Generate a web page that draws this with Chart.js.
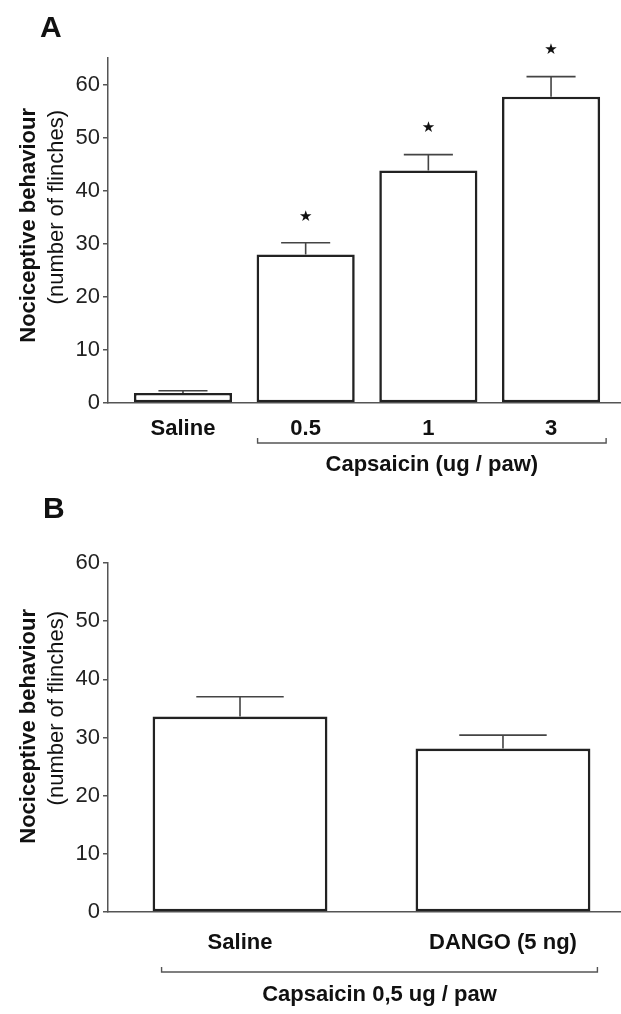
<!DOCTYPE html>
<html>
<head>
<meta charset="utf-8">
<title>Nociceptive behaviour</title>
<script src="https://cdn.jsdelivr.net/npm/chart.js@4.4.1/dist/chart.umd.min.js"></script>
<style>
  body { margin: 0; background: #fff; }
  #wrap { position: relative; width: 621px; height: 1014px; font-family: "Liberation Sans", Arial, sans-serif; }
  .panel { position: absolute; left: 0; width: 621px; }
  .letter { position: absolute; font-weight: bold; font-size: 30px; line-height: 1; color: #111; }
</style>
</head>
<body>
<div id="wrap">
  <div class="panel" style="top:0;height:505px"><canvas id="chartA" width="621" height="505"></canvas></div>
  <div class="panel" style="top:505px;height:509px"><canvas id="chartB" width="621" height="509"></canvas></div>
  <div class="letter" style="left:40px;top:12px">A</div>
  <div class="letter" style="left:43px;top:493px">B</div>
</div>
<script>
'use strict';

// panel A - capsaicin dose response
const catsA = ['Saline', '0.5', '1', '3'];
const meanA = [1.9, 28, 43.8, 57.7];
const semA = [0.4, 2.2, 3.0, 3.8];
const sigA = [false, true, true, true];
const yTicksA = [0, 10, 20, 30, 40, 50, 60];
const groupLabelA = 'Capsaicin (ug / paw)';
const groupSpanA = [1, 3];

// panel B - DANGO vs saline
const catsB = ['Saline', 'DANGO (5 ng)'];
const meanB = [33.6, 28.1];
const semB = [3.4, 2.3];
const sigB = [false, false];
const yTicksB = [0, 10, 20, 30, 40, 50, 60];
const groupLabelB = 'Capsaicin 0,5 ug / paw';
const groupSpanB = [0, 1];

const yTitle = ['Nociceptive behaviour', '(number of flinches)'];

const FONT = '"Liberation Sans", Arial, sans-serif';
const AXIS = '#555';

// error bars (upward only) + significance stars
function errorBarPlugin(means, sems, sig) {
  return {
    id: 'errorBars',
    afterDatasetsDraw(chart) {
      const ctx = chart.ctx;
      const yScale = chart.scales.y;
      const meta = chart.getDatasetMeta(0);
      ctx.save();
      ctx.strokeStyle = '#444';
      ctx.lineWidth = 1.6;
      ctx.fillStyle = '#111';
      ctx.textAlign = 'center';
      ctx.textBaseline = 'middle';
      ctx.font = '15px "DejaVu Sans"';
      meta.data.forEach((bar, i) => {
        const top = yScale.getPixelForValue(means[i] + sems[i]);
        const half = bar.width / 4;
        ctx.beginPath();
        ctx.moveTo(bar.x, bar.y);
        ctx.lineTo(bar.x, top);
        ctx.moveTo(bar.x - half, top);
        ctx.lineTo(bar.x + half, top);
        ctx.stroke();
        if (sig[i]) {
          ctx.fillText('\u2605', bar.x, top - 26);
        }
      });
      ctx.restore();
    }
  };
}

// two line y title, bold first line, regular second
function yTitlePlugin(shift) {
  return {
    id: 'yTitle',
    afterDraw(chart) {
      const ctx = chart.ctx;
      const top = chart.chartArea.top;
      ctx.save();
      ctx.fillStyle = '#111';
      ctx.textAlign = 'right';
      ctx.textBaseline = 'middle';
      [[yTitle[0], 'bold 22px ' + FONT, 29, shift], [yTitle[1], '22px ' + FONT, 57, shift + 2]].forEach(t => {
        ctx.save();
        ctx.font = t[1];
        ctx.translate(t[2], top + t[3]);
        ctx.rotate(-Math.PI / 2);
        ctx.fillText(t[0], 0, 0);
        ctx.restore();
      });
      ctx.restore();
    }
  };
}

// bracket under the grouped bars with its label
function groupPlugin(label, span, g) {
  return {
    id: 'groupBracket',
    afterDraw(chart) {
      const ctx = chart.ctx;
      const meta = chart.getDatasetMeta(0);
      const a = meta.data[span[0]];
      const b = meta.data[span[1]];
      const x1 = a.x - a.width / 2 + g.inL;
      const x2 = b.x + b.width / 2 + g.inR;
      const bottom = chart.chartArea.bottom;
      const yb = bottom + g.drop;
      ctx.save();
      ctx.strokeStyle = AXIS;
      ctx.lineWidth = 1.4;
      ctx.beginPath();
      ctx.moveTo(x1, yb - 5);
      ctx.lineTo(x1, yb);
      ctx.lineTo(x2, yb);
      ctx.lineTo(x2, yb - 5);
      ctx.stroke();
      ctx.fillStyle = '#111';
      ctx.font = 'bold 22px ' + FONT;
      ctx.textAlign = 'center';
      ctx.textBaseline = 'alphabetic';
      ctx.fillText(label, (x1 + x2) / 2, bottom + g.base);
      ctx.restore();
    }
  };
}

function drawPanel(id, cats, means, sems, sig, yTicks, cfg) {
  return new Chart(document.getElementById(id), {
    type: 'bar',
    data: {
      datasets: [{
        data: means.map((v, i) => ({ x: i, y: v })),
        backgroundColor: '#fff',
        borderColor: '#222',
        borderWidth: 2.6,
        borderSkipped: false,
        barPercentage: cfg.barPct,
        categoryPercentage: 1
      }]
    },
    options: {
      responsive: false,
      animation: false,
      events: [],
      layout: { padding: { top: 58, right: 1, left: 0, bottom: 0 } },
      plugins: { legend: { display: false }, tooltip: { enabled: false } },
      scales: {
        x: {
          type: 'linear',
          offset: false,
          min: cfg.xMin,
          max: cfg.xMax,
          afterBuildTicks: s => { s.ticks = cats.map((c, i) => ({ value: i })); },
          afterFit: s => { s.height = cfg.xHeight; },
          grid: { display: false, drawTicks: false },
          border: { color: AXIS, width: 1.5 },
          ticks: {
            autoSkip: false,
            maxRotation: 0,
            padding: cfg.labelPad,
            color: '#111',
            font: { family: FONT, size: 22, weight: 'bold' },
            callback: v => cats[v]
          }
        },
        y: {
          min: 0,
          max: cfg.yMax,
          afterBuildTicks: s => { s.ticks = yTicks.map(v => ({ value: v })); },
          afterFit: s => { s.width = 108; },
          grid: { drawOnChartArea: false, drawTicks: true, tickLength: 5, color: AXIS, lineWidth: 1.5 },
          border: { color: AXIS, width: 1.5 },
          ticks: { padding: 3, color: '#222', font: { family: FONT, size: 22 } }
        }
      }
    },
    plugins: [
      errorBarPlugin(means, sems, sig),
      yTitlePlugin(cfg.titleShift),
      groupPlugin(cfg.groupLabel, cfg.groupSpan, cfg.bracket)
    ]
  });
}

drawPanel('chartA', catsA, meanA, semA, sigA, yTicksA, {
  yMax: 65, xMin: -0.611, xMax: 3.562, barPct: 0.8,
  xHeight: 102, labelPad: 13, titleShift: 50,
  groupLabel: groupLabelA, groupSpan: groupSpanA,
  bracket: { inL: 1, inR: 6, drop: 40, base: 68 }
});

drawPanel('chartB', catsB, meanB, semB, sigB, yTicksB, {
  yMax: 60, xMin: -0.502, xMax: 1.445, barPct: 0.665,
  xHeight: 102, labelPad: 18, titleShift: 46,
  groupLabel: groupLabelB, groupSpan: groupSpanB,
  bracket: { inL: 9, inR: 7, drop: 60, base: 89 }
});
</script>
</body>
</html>
